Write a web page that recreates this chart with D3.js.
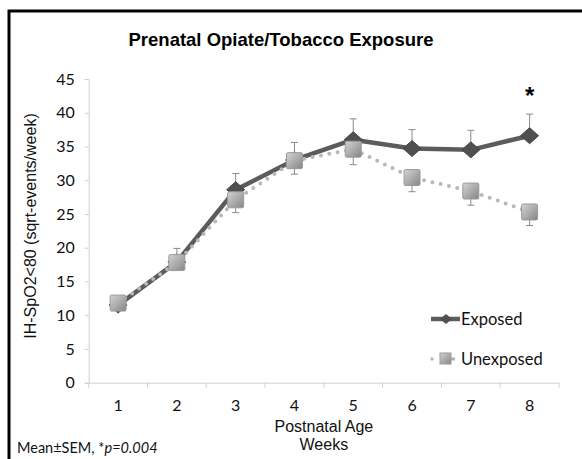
<!DOCTYPE html>
<html>
<head>
<meta charset="utf-8">
<script src="https://d3js.org/d3.v7.min.js"></script>
<style>
  body { margin: 0; background: #fff; }
  svg { display: block; }
</style>
</head>
<body>
<div id="chart"></div>
<script>
const weeks = [1, 2, 3, 4, 5, 6, 7, 8];
const exposed = [11.5, 17.9, 28.6, 33.0, 36.0, 34.7, 34.5, 36.6];
const exposedSem = [0.8, 2.0, 2.4, 2.6, 3.1, 2.8, 2.9, 3.2];
const unexposed = [11.8, 17.8, 27.1, 32.9, 34.6, 30.4, 28.4, 25.3];
const unexposedSem = [0.8, 0.9, 1.9, 2.0, 2.3, 2.1, 2.1, 2.0];
const yTicks = [0, 5, 10, 15, 20, 25, 30, 35, 40, 45];
const sigWeeks = [8];

const W = 582, H = 459;
const plotLeft = 88.7, plotRight = 559, plotTop = 79, plotBottom = 382.7;

const svg = d3.select("#chart").append("svg")
  .attr("width", W)
  .attr("height", H);

// outer frame (only top and left edges show in the picture)
svg.append("path")
  .attr("d", `M9,${H} L9,11 L${W},11`)
  .attr("fill", "none")
  .attr("stroke", "#000")
  .attr("stroke-width", 3);

const defs = svg.append("defs");
const grad = defs.append("linearGradient")
  .attr("id", "sq")
  .attr("x1", "0").attr("y1", "0").attr("x2", "1").attr("y2", "1");
grad.append("stop").attr("offset", "0%").attr("stop-color", "#d4d4d4");
grad.append("stop").attr("offset", "100%").attr("stop-color", "#858585");

const xScale = d3.scaleBand().domain(weeks).range([plotLeft, plotRight]);
const yScale = d3.scaleLinear().domain([0, 45]).range([plotBottom, plotTop]);
const cx = d => xScale(d) + xScale.bandwidth() / 2;

// title
svg.append("text")
  .attr("x", 281).attr("y", 46)
  .attr("text-anchor", "middle")
  .style("font-family", "Liberation Sans, Arial, sans-serif")
  .style("font-size", "18.5px")
  .style("font-weight", "bold")
  .text("Prenatal Opiate/Tobacco Exposure");

// y axis
const yAxis = svg.append("g")
  .attr("transform", `translate(${plotLeft},0)`)
  .call(d3.axisLeft(yScale).tickValues(yTicks).tickSize(4).tickPadding(10));
yAxis.select(".domain").attr("stroke", "#d0d0d0");
yAxis.selectAll(".tick line").attr("stroke", "#d0d0d0");
yAxis.selectAll(".tick text")
  .style("font-family", "Lato, sans-serif")
  .style("font-size", "16px")
  .attr("fill", "#111");

// x axis
const xAxis = svg.append("g")
  .attr("transform", `translate(0,${plotBottom})`)
  .call(d3.axisBottom(xScale).tickSize(0).tickPadding(17));
xAxis.select(".domain").attr("stroke", "#d0d0d0");
xAxis.selectAll(".tick text")
  .style("font-family", "Lato, sans-serif")
  .style("font-size", "16px")
  .attr("fill", "#111");
xAxis.selectAll(".bound")
  .data(d3.range(weeks.length + 1))
  .enter().append("line")
  .attr("x1", i => plotLeft + i * xScale.step())
  .attr("x2", i => plotLeft + i * xScale.step())
  .attr("y1", 0).attr("y2", 5)
  .attr("stroke", "#d0d0d0");

// axis titles
svg.append("text")
  .attr("transform", "translate(36,226) rotate(-90)")
  .attr("text-anchor", "middle")
  .style("font-family", "Liberation Sans, Arial, sans-serif")
  .style("font-size", "16px")
  .attr("fill", "#111")
  .text("IH-SpO2<80  (sqrt-events/week)");

const xTitle = svg.append("text")
  .attr("text-anchor", "middle")
  .style("font-family", "Liberation Sans, Arial, sans-serif")
  .style("font-size", "16px")
  .attr("fill", "#111");
xTitle.append("tspan").attr("x", (plotLeft + plotRight) / 2).attr("y", 432).text("Postnatal Age");
xTitle.append("tspan").attr("x", (plotLeft + plotRight) / 2).attr("y", 450).text("Weeks");

// note
const note = svg.append("text")
  .attr("x", 17).attr("y", 453)
  .style("font-family", "Lato, sans-serif")
  .style("font-size", "14.5px")
  .attr("fill", "#111");
note.append("tspan").text("Mean\u00B1SEM, *");
note.append("tspan").style("font-style", "italic").text("p=0.004");

const lineGen = d3.line().x((d, i) => cx(weeks[i])).y(d => yScale(d));

// exposed series
svg.append("path")
  .datum(exposed)
  .attr("d", lineGen)
  .attr("fill", "none")
  .attr("stroke", "#5c5c5c")
  .attr("stroke-width", 4.5)
  .attr("stroke-linejoin", "round");

const errColor = "#8a8a8a";
const expErr = svg.append("g");
weeks.forEach((w, i) => {
  const x = cx(w), y0 = yScale(exposed[i]), y1 = yScale(exposed[i] + exposedSem[i]);
  expErr.append("line").attr("x1", x).attr("x2", x).attr("y1", y0).attr("y2", y1).attr("stroke", errColor);
  expErr.append("line").attr("x1", x - 3.5).attr("x2", x + 3.5).attr("y1", y1).attr("y2", y1).attr("stroke", errColor);
});

svg.append("g").selectAll("path")
  .data(exposed)
  .enter().append("path")
  .attr("transform", (d, i) => `translate(${cx(weeks[i])},${yScale(d)})`)
  .attr("d", "M0,-8 L9,0 L0,8 L-9,0 Z")
  .attr("fill", "#505050")
  .attr("stroke", "#454545");

// unexposed series
const unErr = svg.append("g");
weeks.forEach((w, i) => {
  const x = cx(w), y0 = yScale(unexposed[i]), y1 = yScale(unexposed[i] - unexposedSem[i]);
  unErr.append("line").attr("x1", x).attr("x2", x).attr("y1", y0).attr("y2", y1).attr("stroke", errColor);
  unErr.append("line").attr("x1", x - 3.5).attr("x2", x + 3.5).attr("y1", y1).attr("y2", y1).attr("stroke", errColor);
});

svg.append("path")
  .datum(unexposed)
  .attr("d", lineGen)
  .attr("fill", "none")
  .attr("stroke", "#b8b8b8")
  .attr("stroke-width", 4)
  .attr("stroke-linecap", "round")
  .attr("stroke-dasharray", "0 8.5");

svg.append("g").selectAll("rect")
  .data(unexposed)
  .enter().append("rect")
  .attr("x", (d, i) => cx(weeks[i]) - 8)
  .attr("y", d => yScale(d) - 8)
  .attr("width", 16).attr("height", 16)
  .attr("rx", 1.5)
  .attr("fill", "url(#sq)")
  .attr("stroke", "#9a9a9a");

// significance star
svg.append("g").selectAll("text")
  .data(sigWeeks)
  .enter().append("text")
  .attr("x", d => cx(d))
  .attr("y", 104)
  .attr("text-anchor", "middle")
  .style("font-family", "Liberation Sans, Arial, sans-serif")
  .style("font-size", "24px")
  .style("font-weight", "bold")
  .text("*");

// legend
const legend = svg.append("g");
legend.append("line")
  .attr("x1", 431).attr("x2", 460).attr("y1", 319).attr("y2", 319)
  .attr("stroke", "#5c5c5c").attr("stroke-width", 4.5);
legend.append("path")
  .attr("transform", "translate(446,319)")
  .attr("d", "M0,-5 L6,0 L0,5 L-6,0 Z")
  .attr("fill", "#505050");
legend.append("text")
  .attr("x", 461).attr("y", 325)
  .style("font-family", "Lato, sans-serif")
  .style("font-size", "16.5px")
  .attr("fill", "#111")
  .text("Exposed");

legend.append("circle")
  .attr("cx", 432).attr("cy", 359).attr("r", 1.8)
  .attr("fill", "#b8b8b8");
legend.append("line")
  .attr("x1", 450).attr("x2", 455).attr("y1", 359).attr("y2", 359)
  .attr("stroke", "#b0b0b0").attr("stroke-width", 3);
legend.append("rect")
  .attr("x", 440).attr("y", 353).attr("width", 11).attr("height", 11)
  .attr("fill", "url(#sq)").attr("stroke", "#9a9a9a");
legend.append("text")
  .attr("x", 461).attr("y", 365)
  .style("font-family", "Lato, sans-serif")
  .style("font-size", "16.5px")
  .attr("fill", "#111")
  .text("Unexposed");
</script>
</body>
</html>
